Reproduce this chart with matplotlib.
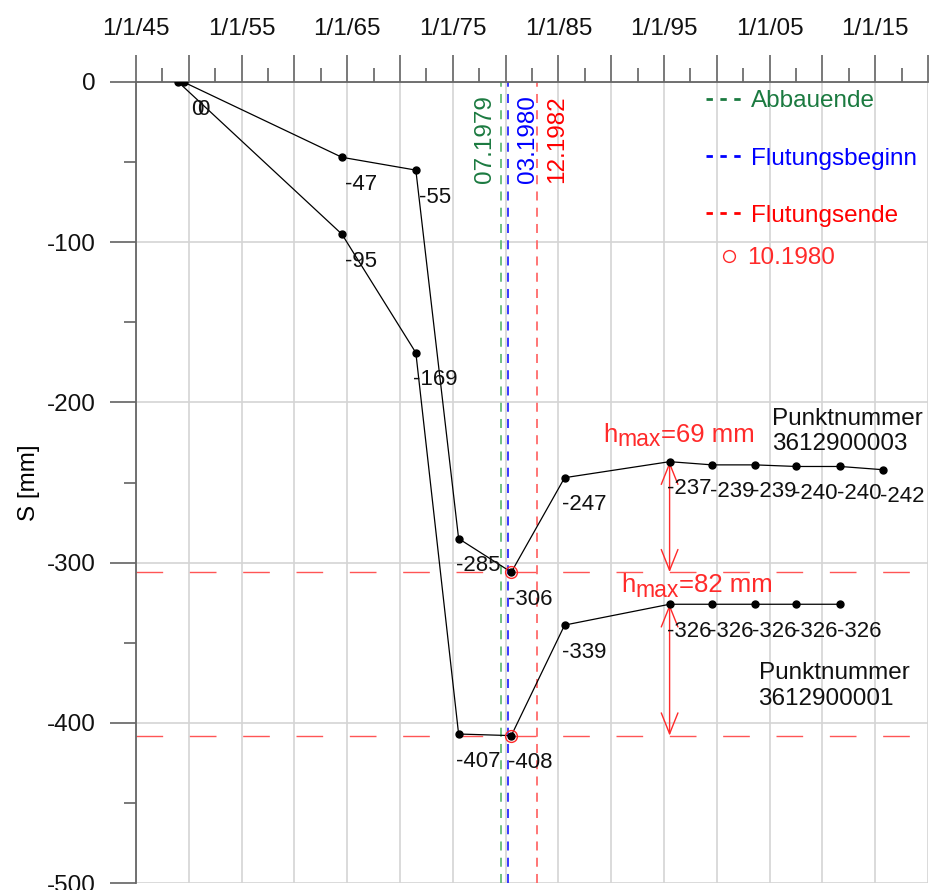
from matplotlib import pyplot as plt
from matplotlib.lines import Line2D
from matplotlib.ticker import MultipleLocator, FuncFormatter

plt.rcParams['font.family'] = ['Liberation Sans', 'DejaVu Sans']
plt.rcParams['axes.unicode_minus'] = False

# Messzeitpunkte (Dezimaljahre) und Senkungen S [mm]
p3_years = [1949.5, 1964.5, 1971.5, 1975.55, 1980.54, 1985.59, 1995.53, 1999.57, 2003.64, 2007.52, 2011.69, 2015.7]
p3_s = [0, -47, -55, -285, -306, -247, -237, -239, -239, -240, -240, -242]
p1_years = [1949.0, 1964.5, 1971.5, 1975.55, 1980.54, 1985.59, 1995.53, 1999.57, 2003.64, 2007.52, 2011.69]
p1_s = [0, -95, -169, -407, -408, -339, -326, -326, -326, -326, -326]
p3_name = "Punktnummer\n3612900003"
p1_name = "Punktnummer\n3612900001"

# Ereignisse
event_dates = [1979.54, 1980.21, 1982.96]
event_labels = ["07.1979", "03.1980", "12.1982"]
event_names = ["Abbauende", "Flutungsbeginn", "Flutungsende"]
flood_label = "10.1980"
flood_idx = 4

line_colors = ["#66bb77", "#2b2bff", "#ff6a6a"]
text_colors = ["#1b7a40", "#0000ff", "#ff0000"]
red = "#ff2a2a"

fig = plt.figure(figsize=(9.33, 8.9), dpi=100)
ax = fig.add_axes([136 / 933, 7 / 890, 792 / 933, 801 / 890])

ax.set_xlim(1945, 2020)
ax.set_ylim(-500, 0)

# vertikale Ereignislinien, erstes Label links der Linie
for d, lab, lc, tc, dx in zip(event_dates, event_labels, line_colors, text_colors, [-3.5, 6.5, 6.5]):
    ax.axvline(d, color=lc, ls=(0, (5, 4)), lw=1.3, zorder=2)
    ax.annotate(lab, xy=(d, 1), xycoords=('data', 'axes fraction'),
                xytext=(dx, -9.5), textcoords='offset points',
                rotation=90, ha='right' if dx < 0 else 'left', va='top',
                color=tc, fontsize=17.5)

# Flutungsniveau
for series in (p3_s, p1_s):
    ax.axhline(series[flood_idx], color="#ff5555", ls=(0, (19.2, 19.2)), lw=1.0, zorder=2)

for yrs, vals, name, name_pos, h_off in [(p3_years, p3_s, p3_name, (2005.25, -218), (-48, 14)),
                                         (p1_years, p1_s, p1_name, (2003.95, -377), (-35, 8.5))]:
    ax.plot(yrs, vals, color='black', lw=0.9, marker='o', ms=5, zorder=4)
    for x, v in zip(yrs, vals):
        ax.annotate(str(v), xy=(x, v), xytext=(14, -19.5), textcoords='offset points',
                    ha='center', va='center', fontsize=16, color='#111111', zorder=5)
    ax.plot(yrs[flood_idx], vals[flood_idx], ls='none', marker='o', ms=8.5,
            mfc='none', mec=red, mew=1.0, zorder=5)
    ax.text(name_pos[0], name_pos[1], name, fontsize=17.5, ha='left', va='center',
            linespacing=1.2, color='#111111')

    # Hebung nach der Flutung
    after = vals[flood_idx + 1:]
    top = max(after)
    i_top = flood_idx + 1 + after.index(top)
    h = top - vals[flood_idx]
    ax.annotate('', xy=(yrs[i_top], top), xytext=(yrs[i_top], vals[flood_idx]),
                arrowprops=dict(arrowstyle='<->,head_length=0.75,head_width=0.3',
                                color=red, lw=1.0, shrinkA=0, shrinkB=0, mutation_scale=20),
                zorder=3)
    t1 = ax.annotate('h', xy=(yrs[i_top], top), xytext=h_off, textcoords='offset points',
                     ha='left', va='baseline', fontsize=18.5, color=red)
    t2 = ax.annotate('max', xy=(1, 0), xycoords=t1, xytext=(0, -3), textcoords='offset points',
                     ha='left', va='bottom', fontsize=16.5, color=red)
    ax.annotate('=%d mm' % h, xy=(1, 0), xycoords=t2, xytext=(0, 3), textcoords='offset points',
                ha='left', va='bottom', fontsize=18.5, color=red)

# Achsen
ax.xaxis.tick_top()
ax.xaxis.set_major_locator(MultipleLocator(5))
ax.xaxis.set_minor_locator(MultipleLocator(2.5))
ax.xaxis.set_major_formatter(FuncFormatter(
    lambda v, pos: "1/1/%02d" % (int(round(v)) % 100) if int(round(v)) % 10 == 5 else ""))
ax.yaxis.set_major_locator(MultipleLocator(100))
ax.yaxis.set_minor_locator(MultipleLocator(50))

ax.tick_params(axis='both', which='both', color='#555555', width=1.1, labelsize=17.5, labelcolor='#111111')
ax.tick_params(axis='x', which='major', length=19.5, pad=11)
ax.tick_params(axis='x', which='minor', length=10)
ax.tick_params(axis='y', which='major', length=19, pad=10)
ax.tick_params(axis='y', which='minor', length=9)

for side in ['right', 'bottom']:
    ax.spines[side].set_visible(False)
for side in ['top', 'left']:
    ax.spines[side].set_color('#666666')
    ax.spines[side].set_linewidth(1.3)

ax.grid(True, which='major', color='#d4d4d4', lw=1.2)
ax.set_axisbelow(True)
ax.set_ylabel("S [mm]", fontsize=17.5, labelpad=5)

# Legende
handles = [Line2D([], [], color=c, ls=(0, (2.3, 2.7)), lw=2.0) for c in text_colors]
leg = ax.legend(handles, event_names, loc='upper left', bbox_to_anchor=(0.7197, 0.9895),
                frameon=False, fontsize=17.5, handlelength=1.45, handletextpad=0.4,
                borderpad=0, borderaxespad=0, labelspacing=1.45, labelcolor=text_colors)
ax.add_artist(leg)
circle = Line2D([], [], ls='none', marker='o', ms=8.5, mfc='none', mec=red, mew=1.0)
ax.legend([circle], [flood_label], loc='center left', bbox_to_anchor=(0.736, 0.780),
          frameon=False, fontsize=17.5, handlelength=0.8, handletextpad=0.36,
          borderpad=0, borderaxespad=0, labelcolor=[red])

fig.savefig("out.png", dpi=100)
